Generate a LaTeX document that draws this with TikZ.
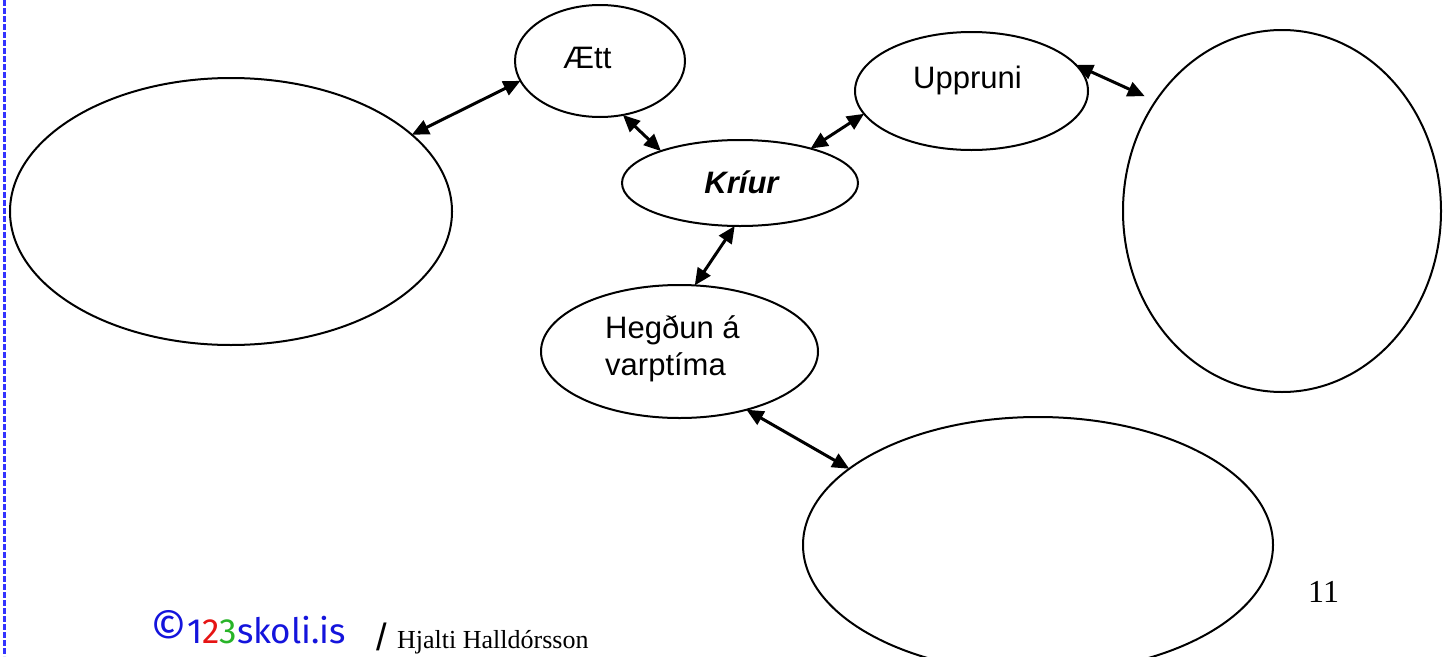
\documentclass[tikz,border=0pt]{standalone}
\usepackage{fontspec}
\setmainfont{Liberation Sans}
\newfontfamily\seriffont{Liberation Serif}
\newfontfamily\logofont{Fira Sans}
\usetikzlibrary{shapes.geometric,arrows.meta}
\definecolor{logoblue}{RGB}{20,20,220}
\definecolor{logored}{RGB}{230,20,20}
\definecolor{logogreen}{RGB}{40,180,40}
\definecolor{edgeblue}{RGB}{51,51,255}
\begin{document}
\begin{tikzpicture}[x=1pt,y=-1pt,
  bubble/.style={draw,ellipse,line width=2pt,inner sep=0pt,outer sep=0pt},
  link/.style={{Triangle[length=17pt,width=15pt]}-{Triangle[length=17pt,width=15pt]},line width=3pt},
  lbl/.style={anchor=base west,inner sep=0pt,font=\fontsize{31}{37}\selectfont}]
\useasboundingbox (0,0) rectangle (1443,656);
\draw[line width=2.5pt,edgeblue,dash pattern=on 6pt off 2pt] (4.5,0) -- (4.5,656);

\node[bubble,minimum width=170pt,minimum height=112pt] (ett) at (600,61) {};
\node[bubble,minimum width=442pt,minimum height=267pt] (left) at (231,211.5) {};
\node[bubble,minimum width=236pt,minimum height=86pt] (kriur) at (740,183) {};
\node[bubble,minimum width=233pt,minimum height=118pt] (upp) at (971.5,91) {};
\node[bubble,minimum width=318pt,minimum height=362pt] (right) at (1282,211) {};
\node[bubble,minimum width=277pt,minimum height=133pt] (heg) at (679.5,351.5) {};
\node[bubble,minimum width=470pt,minimum height=256pt] (bottom) at (1038,545) {};

\node[lbl] (tett) at (563,68) {Ætt};
\node[lbl] (tupp) at (913,88) {Uppruni};
\node[lbl,anchor=base,font=\fontsize{31}{37}\selectfont\bfseries\itshape] (tkriur) at (741.5,193) {Kríur};
\node[lbl] (theg1) at (605,338) {Hegðun á};
\node[lbl] (theg2) at (605,375) {varptíma};

\draw[link] (left.23.3) -- (ett.194.6);
\draw[link] (ett.293.7) -- (kriur.158.1);
\draw[link] (kriur.26.2) -- (upp.192.9);
\draw[link,shorten >=12pt] (upp.14.7) -- (right.139.3);
\draw[link] (kriur.263.5) -- (heg.77.1);
\draw[link] (heg.319.9) -- (bottom.158.5);

\node[anchor=base west,inner sep=0pt,font=\seriffont\fontsize{32}{38}\selectfont] (page) at (1308,602) {11};
\node[anchor=base west,inner sep=0pt,font=\logofont\fontsize{35}{40}\selectfont] (logo) at (150,643)
  {\textcolor{logoblue}{\raisebox{-1pt}{\scalebox{1.3}{©}}1}\textcolor{logored}{2}\textcolor{logogreen}{3}\textcolor{logoblue}{skoli.is}};
\node[anchor=base west,inner sep=0pt,font=\fontsize{38}{42}\selectfont] (slash) at (376,650) {/};
\node[anchor=base west,inner sep=0pt,font=\seriffont\fontsize{26}{30}\selectfont] (author) at (397,648) {Hjalti Halldórsson};
\end{tikzpicture}
\end{document}
